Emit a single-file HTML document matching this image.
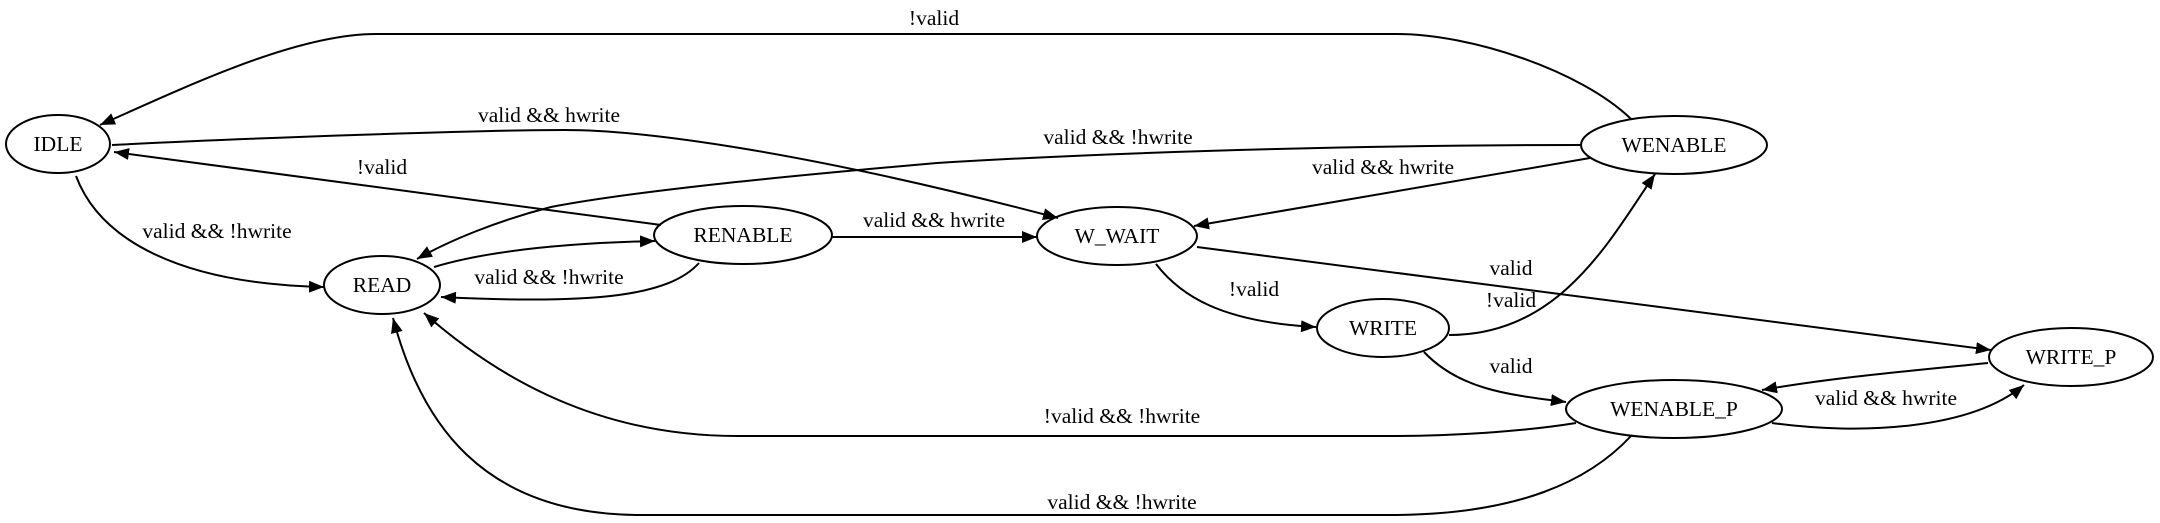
<!DOCTYPE html>
<html><head><meta charset="utf-8"><style>
html,body{margin:0;padding:0;background:#fff;}
svg{display:block;}
text{font-family:"Liberation Serif",serif;font-size:21.5px;fill:#000;}
</style></head><body>
<svg width="2160" height="523" viewBox="0 0 2160 523" xmlns="http://www.w3.org/2000/svg">
<defs>
<marker id="a" markerUnits="userSpaceOnUse" markerWidth="16" markerHeight="12" refX="15" refY="6" orient="auto">
<path d="M0,0 L15,6 L0,12 Z" fill="#000"/>
</marker>
</defs>
<g fill="none" stroke="#000" stroke-width="2" marker-end="url(#a)">
<path d="M1631,119 C1580,70 1470,34 1397,34 L376,34 C300,34 200,80 100,125"/>
<path d="M112,145 C250,138 480,130 565,130 C640,130 800,150 1058,218"/>
<path d="M661,225 L114,152"/>
<path d="M76,176 C100,240 180,284 324,287"/>
<path d="M1582,145 C1400,145 1150,150 937,163 C800,175 640,190 551,207 C500,220 450,240 417,259"/>
<path d="M1590,158 L1194,226"/>
<path d="M434,267 C490,250 570,243 655,241"/>
<path d="M699,263 C670,295 600,305 441,297"/>
<path d="M832,237 L1037,237"/>
<path d="M1156,264 C1180,295 1220,322 1316,327"/>
<path d="M1197,247 L1991,350"/>
<path d="M1449,335 C1560,335 1610,240 1655,174"/>
<path d="M1424,352 C1460,390 1510,395 1566,402"/>
<path d="M1988,363 C1900,372 1830,378 1762,390"/>
<path d="M1772,423 C1860,435 1970,430 2024,385"/>
<path d="M1576,423 C1520,432 1450,436 1390,436 L737,436 C600,436 500,380 424,313"/>
<path d="M1631,436 C1590,480 1520,515 1390,515 L641,515 C480,515 420,420 393,318"/>
</g>
<g fill="none" stroke="#000" stroke-width="2">
<ellipse cx="58" cy="144" rx="52" ry="29"/>
<ellipse cx="382" cy="285" rx="58" ry="29"/>
<ellipse cx="743" cy="235" rx="89" ry="29"/>
<ellipse cx="1117" cy="236" rx="80" ry="29"/>
<ellipse cx="1674" cy="145" rx="93" ry="29"/>
<ellipse cx="1383" cy="328" rx="66" ry="29"/>
<ellipse cx="2071" cy="357" rx="82" ry="29"/>
<ellipse cx="1674" cy="409" rx="108" ry="29"/>
</g>
<g text-anchor="middle">
<text x="58" y="151">IDLE</text>
<text x="382" y="292">READ</text>
<text x="743" y="242">RENABLE</text>
<text x="1117" y="243">W_WAIT</text>
<text x="1674" y="152">WENABLE</text>
<text x="1383" y="335">WRITE</text>
<text x="2071" y="364">WRITE_P</text>
<text x="1674" y="416">WENABLE_P</text>
<text x="934" y="25">!valid</text>
<text x="549" y="122">valid &amp;&amp; hwrite</text>
<text x="382" y="174">!valid</text>
<text x="217" y="238">valid &amp;&amp; !hwrite</text>
<text x="1118" y="144">valid &amp;&amp; !hwrite</text>
<text x="1383" y="174">valid &amp;&amp; hwrite</text>
<text x="549" y="284">valid &amp;&amp; !hwrite</text>
<text x="934" y="227">valid &amp;&amp; hwrite</text>
<text x="1254" y="296">!valid</text>
<text x="1511" y="275">valid</text>
<text x="1511" y="307">!valid</text>
<text x="1511" y="373">valid</text>
<text x="1886" y="405">valid &amp;&amp; hwrite</text>
<text x="1122" y="423">!valid &amp;&amp; !hwrite</text>
<text x="1122" y="509">valid &amp;&amp; !hwrite</text>
</g>
</svg>
</body></html>
